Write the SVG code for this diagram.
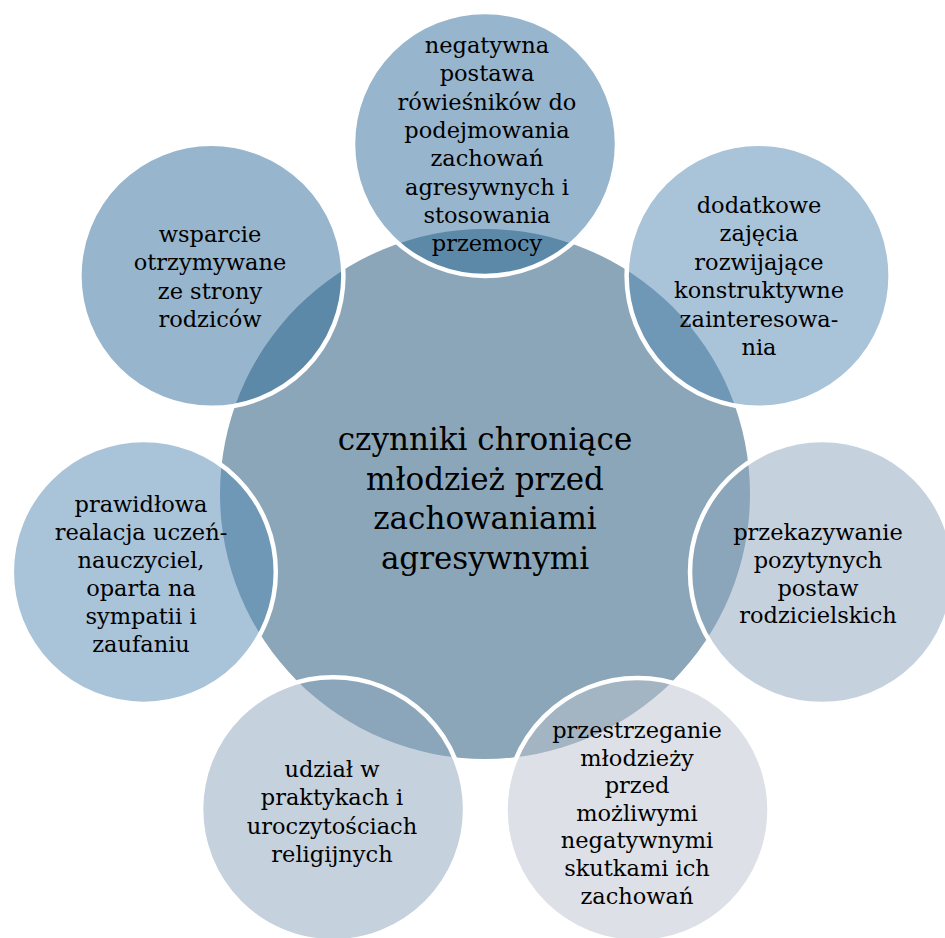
<svg xmlns="http://www.w3.org/2000/svg" width="945" height="938" viewBox="0 0 945 938">
<style>
.c{stroke:#fff;stroke-width:4.5}
.t{font-family:"DejaVu Serif","Liberation Serif",serif;font-size:22.5px;fill:#000;text-anchor:middle}
.m{font-family:"DejaVu Serif","Liberation Serif",serif;font-size:31px;fill:#000;text-anchor:middle}
</style>
<rect width="945" height="938" fill="#fff"/>
<g id="connectors"></g>
<g id="center">
<circle cx="485" cy="494" r="265" fill="#8ba6b8"/>
<text class="m" x="485" y="450">czynniki chroniące</text>
<text class="m" x="485" y="489.5">młodzież przed</text>
<text class="m" x="485" y="529">zachowaniami</text>
<text class="m" x="485" y="568.5">agresywnymi</text>
</g>
<g id="n1">
<circle class="c" cx="485" cy="144" r="132" fill="#2f6b99" fill-opacity="0.5"/>
<text class="t" x="487" y="53">negatywna</text>
<text class="t" x="487" y="81.3">postawa</text>
<text class="t" x="487" y="109.6">rówieśników do</text>
<text class="t" x="487" y="137.9">podejmowania</text>
<text class="t" x="487" y="166.2">zachowań</text>
<text class="t" x="487" y="194.5">agresywnych i</text>
<text class="t" x="487" y="222.8">stosowania</text>
<text class="t" x="487" y="251.1">przemocy</text>
</g>
<g id="n2">
<circle class="c" cx="758.6" cy="275.8" r="132" fill="#5387b3" fill-opacity="0.5"/>
<text class="t" x="759" y="213">dodatkowe</text>
<text class="t" x="759" y="241.4">zajęcia</text>
<text class="t" x="759" y="269.8">rozwijające</text>
<text class="t" x="759" y="298.2">konstruktywne</text>
<text class="t" x="759" y="326.6">zainteresowa-</text>
<text class="t" x="759" y="355">nia</text>
</g>
<g id="n3">
<circle class="c" cx="822" cy="572" r="132" fill="#8ba3bb" fill-opacity="0.5"/>
<text class="t" x="818" y="540">przekazywanie</text>
<text class="t" x="818" y="567.8">pozytynych</text>
<text class="t" x="818" y="595.6">postaw</text>
<text class="t" x="818" y="623.4">rodzicielskich</text>
</g>
<g id="n4">
<circle class="c" cx="637.5" cy="810" r="132" fill="#bbc1cd" fill-opacity="0.5"/>
<text class="t" x="637" y="738">przestrzeganie</text>
<text class="t" x="637" y="765.6">młodzieży</text>
<text class="t" x="637" y="793.2">przed</text>
<text class="t" x="637" y="820.8">możliwymi</text>
<text class="t" x="637" y="848.4">negatywnymi</text>
<text class="t" x="637" y="876">skutkami ich</text>
<text class="t" x="637" y="903.6">zachowań</text>
</g>
<g id="n5">
<circle class="c" cx="333.1" cy="809.3" r="132" fill="#8ba3bb" fill-opacity="0.5"/>
<text class="t" x="332" y="777">udział w</text>
<text class="t" x="332" y="805.3">praktykach i</text>
<text class="t" x="332" y="833.6">uroczytościach</text>
<text class="t" x="332" y="861.9">religijnych</text>
</g>
<g id="n6">
<circle class="c" cx="143.8" cy="571.9" r="132" fill="#5387b3" fill-opacity="0.5"/>
<text class="t" x="141" y="512">prawidłowa</text>
<text class="t" x="141" y="540">realacja uczeń-</text>
<text class="t" x="141" y="568">nauczyciel,</text>
<text class="t" x="141" y="596">oparta na</text>
<text class="t" x="141" y="624">sympatii i</text>
<text class="t" x="141" y="652">zaufaniu</text>
</g>
<g id="n7">
<circle class="c" cx="211.4" cy="275.8" r="132" fill="#2f6b99" fill-opacity="0.5"/>
<text class="t" x="210" y="242">wsparcie</text>
<text class="t" x="210" y="270.3">otrzymywane</text>
<text class="t" x="210" y="298.6">ze strony</text>
<text class="t" x="210" y="326.9">rodziców</text>
</g>
</svg>
